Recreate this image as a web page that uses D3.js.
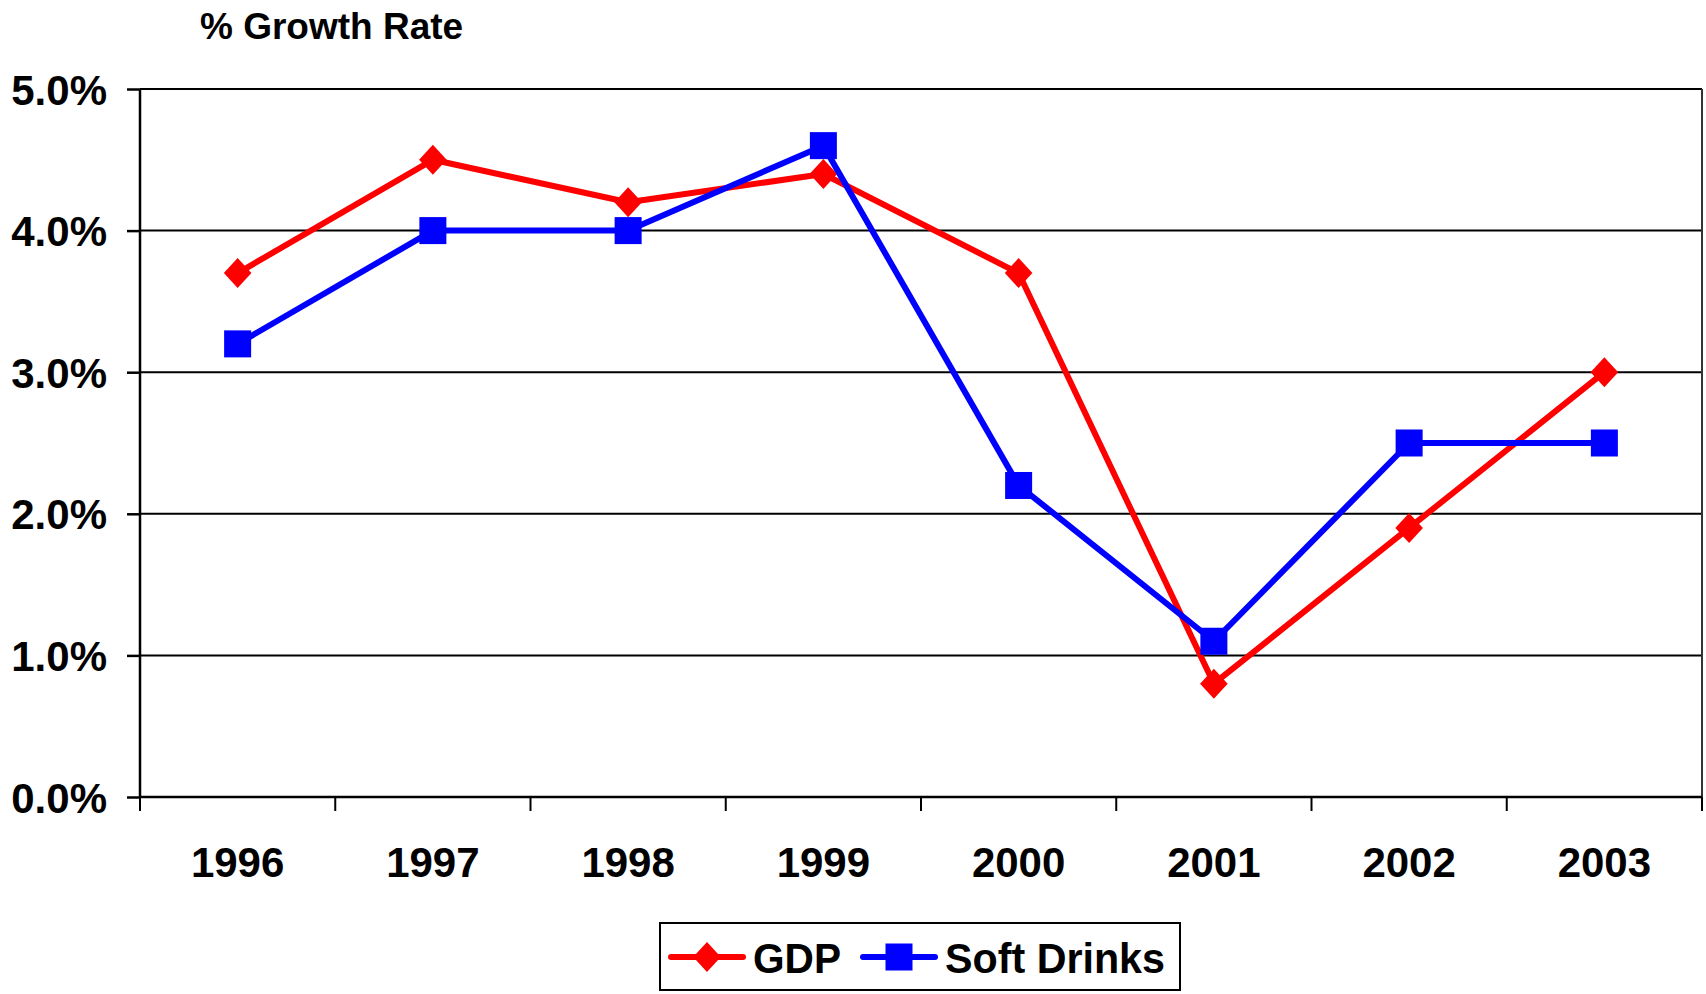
<!DOCTYPE html>
<html>
<head>
<meta charset="utf-8">
<script src="https://cdn.jsdelivr.net/npm/d3@7"></script>
<style>
  body { margin: 0; background: #fff; }
  text { font-family: "Liberation Sans", Arial, sans-serif; font-weight: bold; fill: #000; }
</style>
</head>
<body>
<div id="chartContainer"></div>
<script>
// data
const years = ["1996", "1997", "1998", "1999", "2000", "2001", "2002", "2003"];
const gdp = [3.7, 4.5, 4.2, 4.4, 3.7, 0.8, 1.9, 3.0];
const softDrinks = [3.2, 4.0, 4.0, 4.6, 2.2, 1.1, 2.5, 2.5];
const yTicks = [0, 1, 2, 3, 4, 5];
const seriesNames = ["GDP", "Soft Drinks"];
const seriesColors = ["#ff0000", "#0000ff"];

const width = 1706;
const height = 994;
const margins = { top: 89, right: 4, bottom: 197, left: 140 };
const chartWidth = width - margins.left - margins.right;
const chartHeight = height - margins.top - margins.bottom;

const series = [
  { name: seriesNames[0], values: gdp, color: seriesColors[0], shape: "diamond" },
  { name: seriesNames[1], values: softDrinks, color: seriesColors[1], shape: "square" }
];

// SCALES
const xScale = d3.scaleBand().domain(years).range([0, chartWidth]).padding(0);
const yScale = d3.scaleLinear().domain([0, 5]).range([chartHeight, 0]);
const xMid = (d) => xScale(d) + xScale.bandwidth() / 2;

const svg = d3
  .select("#chartContainer")
  .append("svg")
  .attr("width", width)
  .attr("height", height);

// title
svg.append("text")
  .attr("x", 200)
  .attr("y", 39)
  .style("font-size", "37px")
  .text("% Growth Rate");

const mainG = svg
  .append("g")
  .attr("transform", `translate(${margins.left}, ${margins.top})`);

// gridlines
mainG.append("g")
  .selectAll("line")
  .data(yTicks.filter((d) => d > 0))
  .enter()
  .append("line")
  .attr("x1", 0)
  .attr("x2", chartWidth)
  .attr("y1", (d) => yScale(d))
  .attr("y2", (d) => yScale(d))
  .attr("stroke", "#000")
  .attr("stroke-width", 2);

// right border
mainG.append("line")
  .attr("x1", chartWidth)
  .attr("x2", chartWidth)
  .attr("y1", 0)
  .attr("y2", chartHeight)
  .attr("stroke", "#333")
  .attr("stroke-width", 2);

// Y axis
const yAxis = d3.axisLeft(yScale)
  .tickValues(yTicks)
  .tickSize(13)
  .tickPadding(20)
  .tickFormat((d) => d.toFixed(1) + "%");

mainG.append("g")
  .call(yAxis)
  .call((g) => g.selectAll("line, path").attr("stroke", "#000").attr("stroke-width", 2.5))
  .call((g) => g.select(".domain").attr("d", `M0,0V${chartHeight}`))
  .selectAll("text")
  .attr("font-family", null)
  .attr("font-size", null)
  .style("font-size", "42px")
  .attr("dy", "0.36em");

// X axis
mainG.append("line")
  .attr("x1", 0)
  .attr("x2", chartWidth)
  .attr("y1", chartHeight)
  .attr("y2", chartHeight)
  .attr("stroke", "#000")
  .attr("stroke-width", 2.5);

// tick marks sit between the categories
mainG.append("g")
  .selectAll("line")
  .data(years.map((d) => xScale(d)).concat([chartWidth]))
  .enter()
  .append("line")
  .attr("x1", (d) => d)
  .attr("x2", (d) => d)
  .attr("y1", chartHeight)
  .attr("y2", chartHeight + 14)
  .attr("stroke", "#000")
  .attr("stroke-width", 2);

mainG.append("g")
  .selectAll("text")
  .data(years)
  .enter()
  .append("text")
  .attr("x", (d) => xMid(d))
  .attr("y", chartHeight + 80)
  .attr("text-anchor", "middle")
  .style("font-size", "42px")
  .text((d) => d);

// markers
function drawMarker(sel, shape, color, size) {
  if (shape === "diamond") {
    const h = size / 2;
    sel.append("path")
      .attr("d", `M0,${-h}L${h * 0.92},0L0,${h}L${-h * 0.92},0Z`)
      .attr("fill", color);
  } else {
    sel.append("rect")
      .attr("x", -size * 0.45)
      .attr("y", -size * 0.45)
      .attr("width", size * 0.9)
      .attr("height", size * 0.9)
      .attr("fill", color);
  }
}

const line = d3.line()
  .x((d, i) => xMid(years[i]))
  .y((d) => yScale(d));

// series lines + markers
series.forEach((s) => {
  const g = mainG.append("g");
  g.append("path")
    .datum(s.values)
    .attr("d", line)
    .attr("fill", "none")
    .attr("stroke", s.color)
    .attr("stroke-width", 6)
    .attr("stroke-linejoin", "round");

  g.selectAll(".pt")
    .data(s.values)
    .enter()
    .append("g")
    .attr("class", "pt")
    .attr("transform", (d, i) => `translate(${xMid(years[i])}, ${yScale(d)})`)
    .each(function () {
      drawMarker(d3.select(this), s.shape, s.color, 30);
    });
});

// Legend
const legend = svg.append("g").attr("transform", "translate(660, 923)");
legend.append("rect")
  .attr("width", 520)
  .attr("height", 67)
  .attr("fill", "#fff")
  .attr("stroke", "#000")
  .attr("stroke-width", 2);

const legendX = [11, 203];
const legendTextW = [88, 220];
series.forEach((s, i) => {
  const item = legend.append("g").attr("transform", `translate(${legendX[i]}, 34)`);
  item.append("line")
    .attr("x1", 0)
    .attr("x2", 72)
    .attr("stroke", s.color)
    .attr("stroke-width", 6)
    .attr("stroke-linecap", "round");
  drawMarker(item.append("g").attr("transform", "translate(36, 0)"), s.shape, s.color, 30);
  item.append("text")
    .attr("x", 82)
    .attr("y", 16)
    .attr("textLength", legendTextW[i])
    .attr("lengthAdjust", "spacingAndGlyphs")
    .style("font-size", "42px")
    .text(s.name);
});
</script>
</body>
</html>
